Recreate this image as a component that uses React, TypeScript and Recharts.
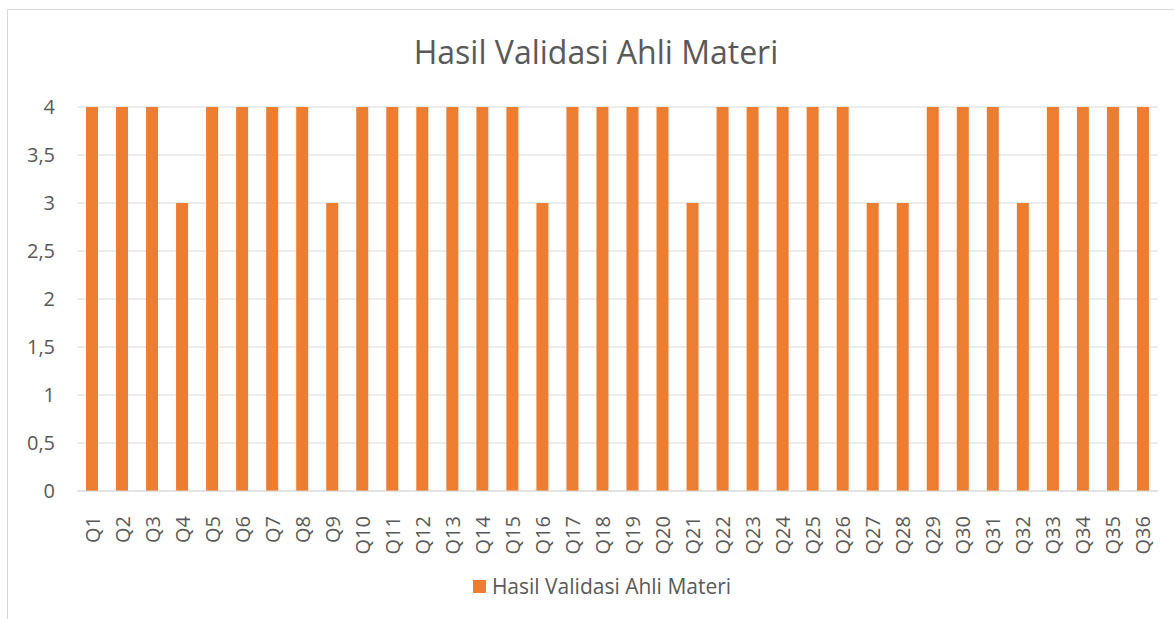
import { BarChart, Bar, XAxis, YAxis, CartesianGrid } from "recharts";

const categories = [
  "Q1", "Q2", "Q3", "Q4", "Q5", "Q6", "Q7", "Q8", "Q9", "Q10", "Q11", "Q12",
  "Q13", "Q14", "Q15", "Q16", "Q17", "Q18", "Q19", "Q20", "Q21", "Q22", "Q23", "Q24",
  "Q25", "Q26", "Q27", "Q28", "Q29", "Q30", "Q31", "Q32", "Q33", "Q34", "Q35", "Q36",
];
const scores = [
  4, 4, 4, 3, 4, 4, 4, 4, 3, 4, 4, 4,
  4, 4, 4, 3, 4, 4, 4, 4, 3, 4, 4, 4,
  4, 4, 3, 3, 4, 4, 4, 3, 4, 4, 4, 4,
];
const yTicks = [0, 0.5, 1, 1.5, 2, 2.5, 3, 3.5, 4];

const seriesName = "Hasil Validasi Ahli Materi";
const font = "'Open Sans', sans-serif";
const textColor = "#595959";

const data = categories.map((q, i) => ({ q, nilai: scores[i] }));

const XTick = ({ x, y, payload }: any) => (
  <text
    x={x}
    y={y + 17}
    transform={`rotate(-90, ${x}, ${y + 17})`}
    textAnchor="end"
    dominantBaseline="central"
    fill={textColor}
    fontSize={20}
    fontFamily={font}
  >
    {payload.value}
  </text>
);

export default function App() {
  return (
    <div style={{ position: "absolute", left: 0, top: 0, width: 1174, height: 619, background: "#fff", overflow: "hidden" }}>
      <div style={{ position: "absolute", left: 7, top: 9, width: 1200, height: 700, borderLeft: "1px solid #d9d9d9", borderTop: "1px solid #d9d9d9" }} />
      <div style={{ position: "absolute", left: 0, width: 1192, top: 30, textAlign: "center", fontFamily: font, fontSize: 32, color: textColor }}>
        {seriesName}
      </div>
      <BarChart width={1174} height={619} data={data} margin={{ top: 107, right: 16, left: 0, bottom: 58 }}>
        <CartesianGrid vertical={false} stroke="#d9d9d9" />
        <XAxis dataKey="q" interval={0} height={70} tickLine={false} axisLine={{ stroke: "#d9d9d9" }} tick={<XTick />} />
        <YAxis
          domain={[0, 4]}
          ticks={yTicks}
          width={77}
          axisLine={false}
          tickLine={false}
          tickSize={0}
          tickMargin={22}
          tickFormatter={(v: number) => String(v).replace(".", ",")}
          tick={{ fill: textColor, fontSize: 20, fontFamily: font }}
        />
        <Bar dataKey="nilai" name={seriesName} fill="#ED7D31" barSize={12} isAnimationActive={false} />
      </BarChart>
      <div style={{ position: "absolute", left: 0, width: 1204, top: 572, display: "flex", alignItems: "center", justifyContent: "center", fontFamily: font, fontSize: 21, color: textColor }}>
        <span style={{ width: 13, height: 13, background: "#ED7D31", display: "inline-block", marginRight: 6 }} />
        {seriesName}
      </div>
    </div>
  );
}
